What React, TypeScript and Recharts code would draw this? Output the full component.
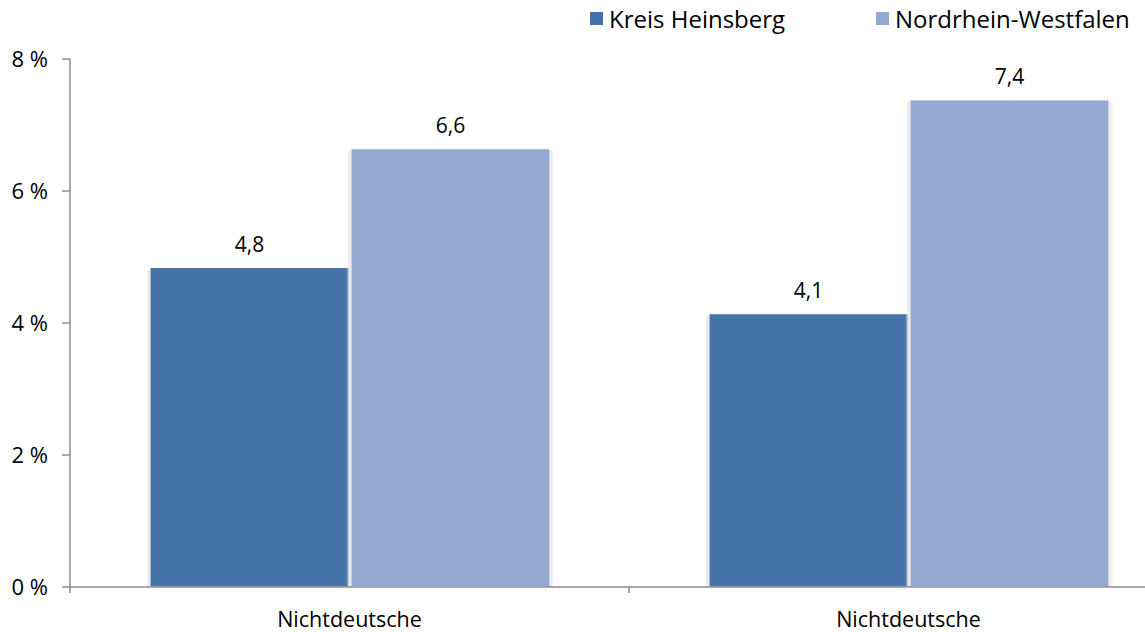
import { BarChart, Bar, XAxis, YAxis, LabelList, Legend } from "recharts";

const categories = ["Nichtdeutsche", "Nichtdeutsche"];
const kreisHeinsberg = [4.84, 4.14];
const nordrheinWestfalen = [6.64, 7.38];
const yTicks = [0, 2, 4, 6, 8];

const seriesNames = { kreis: "Kreis Heinsberg", nrw: "Nordrhein-Westfalen" };
const colors = { kreis: "#4573a7", nrw: "#95a9d0" };

const data = categories.map((name, i) => ({
  name,
  kreis: kreisHeinsberg[i],
  nrw: nordrheinWestfalen[i],
}));

const FONT = "'Open Sans', 'Liberation Sans', sans-serif";
const AXIS = "#8c8c8c";

const fmt = (v: any) => Number(v).toFixed(1).replace(".", ",");

function ShadowBar(props: any) {
  const { x, y, width, height, fill } = props;
  if (!height || height <= 0) return null;
  return (
    <g>
      <defs>
        <linearGradient id="shL" x1="1" x2="0" y1="0" y2="0">
          <stop offset="0%" stopColor="#cfcfcf" />
          <stop offset="100%" stopColor="#ffffff" stopOpacity={0} />
        </linearGradient>
        <linearGradient id="shR" x1="0" x2="1" y1="0" y2="0">
          <stop offset="0%" stopColor="#cfcfcf" />
          <stop offset="100%" stopColor="#ffffff" stopOpacity={0} />
        </linearGradient>
      </defs>
      <rect x={x - 5} y={y + 2} width={5} height={height - 2} fill="url(#shL)" />
      <rect x={x + width} y={y + 2} width={5} height={height - 2} fill="url(#shR)" />
      <rect x={x} y={y} width={width} height={height} fill={fill} stroke="#ffffff" strokeWidth={1} />
    </g>
  );
}

function CategoryTick(props: any) {
  const { x, y, payload, index, visibleTicksCount } = props;
  const half = payload?.offset ?? 0;
  const axisY = y - 8;
  const isLast = index === (visibleTicksCount ?? categories.length) - 1;
  return (
    <g>
      <line x1={x - half} x2={x - half} y1={axisY} y2={axisY + 6} stroke={AXIS} strokeWidth={1.5} />
      {isLast && <line x1={x + half} x2={x + half} y1={axisY} y2={axisY + 6} stroke={AXIS} strokeWidth={1.5} />}
      <text x={x} y={axisY + 40} textAnchor="middle" fill="#000" fontSize={21.5} fontFamily={FONT}>
        {payload.value}
      </text>
    </g>
  );
}

function LegendContent() {
  const items = [
    { key: "kreis" as const, left: 590 },
    { key: "nrw" as const, left: 876 },
  ];
  return (
    <div style={{ position: "relative", height: 36, fontFamily: FONT, fontSize: 24, color: "#000" }}>
      {items.map((it) => (
        <div
          key={it.key}
          style={{ position: "absolute", left: it.left, top: 0, display: "flex", alignItems: "center", whiteSpace: "nowrap", height: 36 }}
        >
          <span
            style={{ display: "inline-block", width: 13, height: 13, background: colors[it.key], marginRight: 6 }}
          />
          <span>{seriesNames[it.key]}</span>
        </div>
      ))}
    </div>
  );
}

export default function App() {
  return (
    <div style={{ position: "absolute", top: 0, left: 0, width: 1145, height: 632, overflow: "hidden", background: "#fff" }}>
      <BarChart
        width={1200}
        height={632}
        data={data}
        margin={{ top: 59, right: 12, left: 10, bottom: 15 }}
        barCategoryGap={80}
        barGap={2}
      >
        <Legend
          layout="horizontal"
          verticalAlign="middle"
          align="center"
          content={<LegendContent />}
          wrapperStyle={{ position: "absolute", top: 0, left: 0, width: 1200 }}
        />
        <YAxis
          width={60}
          domain={[0, 8]}
          ticks={yTicks}
          tickFormatter={(v) => `${v} %`}
          axisLine={{ stroke: AXIS, strokeWidth: 1.5 }}
          tickLine={{ stroke: AXIS, strokeWidth: 1.5 }}
          tickSize={8}
          tickMargin={14}
          tick={{ fill: "#000", fontSize: 22, fontFamily: FONT }}
        />
        <XAxis
          dataKey="name"
          height={30}
          axisLine={{ stroke: AXIS, strokeWidth: 1.5 }}
          tickLine={false}
          tick={<CategoryTick />}
          interval={0}
        />
        <Bar dataKey="kreis" name={seriesNames.kreis} fill={colors.kreis} shape={<ShadowBar />} isAnimationActive={false}>
          <LabelList dataKey="kreis" position="top" offset={16} formatter={fmt} fill="#000" fontSize={21} fontFamily={FONT} />
        </Bar>
        <Bar dataKey="nrw" name={seriesNames.nrw} fill={colors.nrw} shape={<ShadowBar />} isAnimationActive={false}>
          <LabelList dataKey="nrw" position="top" offset={16} formatter={fmt} fill="#000" fontSize={21} fontFamily={FONT} />
        </Bar>
      </BarChart>
    </div>
  );
}
